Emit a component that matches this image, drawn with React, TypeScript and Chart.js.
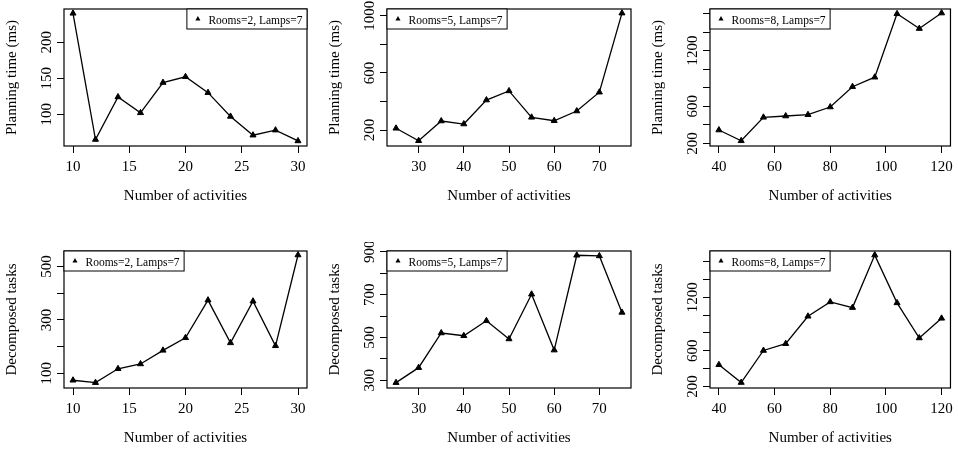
import React, { useEffect, useRef } from 'react';
import { Chart, registerables } from 'chart.js';

Chart.register(...registerables);

const FONT = "'Liberation Serif', 'Times New Roman', serif";

// ---- data ----
const legendLabels = ['Rooms=2, Lamps=7', 'Rooms=5, Lamps=7', 'Rooms=8, Lamps=7'];

const activities2 = [10, 12, 14, 16, 18, 20, 22, 24, 26, 28, 30];
const activities5 = [25, 30, 35, 40, 45, 50, 55, 60, 65, 70, 75];
const activities8 = [40, 48, 56, 64, 72, 80, 88, 96, 104, 112, 120];

const planningMs2 = [240, 65, 124, 102, 144, 152, 130, 97, 71, 78, 63];
const planningMs5 = [212, 125, 263, 242, 410, 474, 289, 265, 333, 465, 1019];
const planningMs8 = [344, 228, 481, 495, 509, 592, 811, 913, 1596, 1437, 1604];

const decomposed2 = [74, 65, 117, 135, 186, 233, 374, 214, 370, 203, 543];
const decomposed5 = [289, 359, 521, 508, 578, 493, 702, 441, 884, 881, 617];
const decomposed8 = [444, 245, 604, 680, 987, 1148, 1084, 1672, 1137, 744, 964];

const xTicks2 = [10, 15, 20, 25, 30];
const xTicks5 = [30, 40, 50, 60, 70];
const xTicks8 = [40, 60, 80, 100, 120];

const planningTicks2 = [100, 150, 200];
const planningLabels2 = [100, 150, 200];
const planningTicks5 = [200, 400, 600, 800, 1000];
const planningLabels5 = [200, 600, 1000];
const planningTicks8 = [200, 400, 600, 800, 1000, 1200, 1400, 1600];
const planningLabels8 = [200, 600, 1200];

const decomposedTicks2 = [100, 200, 300, 400, 500];
const decomposedLabels2 = [100, 300, 500];
const decomposedTicks5 = [300, 400, 500, 600, 700, 800, 900];
const decomposedLabels5 = [300, 500, 700, 900];
const decomposedTicks8 = [200, 400, 600, 800, 1000, 1200, 1400, 1600];
const decomposedLabels8 = [200, 600, 1200];

const X_TITLE = 'Number of activities';
const Y_TITLE_TOP = 'Planning time (ms)';
const Y_TITLE_BOTTOM = 'Decomposed tasks';

// ---- layout (page pixels) ----
const plotLeft = [64, 387, 710];
const plotRight = [307, 631, 953];
const plotTop = [9, 251];
const plotBottom = [146, 388];
const xTitleMiddle = [196, 438];
const Y_AXIS_W = 64;

type PanelSpec = {
  row: number;
  col: number;
  label: string;
  xs: number[];
  ys: number[];
  xMin: number;
  xMax: number;
  yMin: number;
  yMax: number;
  xTicks: number[];
  yTicks: number[];
  yLabels: number[];
  yTitle: string;
  legendSide: 'left' | 'right';
};

const panels: PanelSpec[] = [
  { row: 0, col: 0, label: legendLabels[0], xs: activities2, ys: planningMs2, xMin: 9.2, xMax: 30.8, yMin: 56, yMax: 246, xTicks: xTicks2, yTicks: planningTicks2, yLabels: planningLabels2, yTitle: Y_TITLE_TOP, legendSide: 'right' },
  { row: 0, col: 1, label: legendLabels[1], xs: activities5, ys: planningMs5, xMin: 23, xMax: 77, yMin: 88, yMax: 1048, xTicks: xTicks5, yTicks: planningTicks5, yLabels: planningLabels5, yTitle: Y_TITLE_TOP, legendSide: 'left' },
  { row: 0, col: 2, label: legendLabels[2], xs: activities8, ys: planningMs8, xMin: 36.8, xMax: 123.2, yMin: 172, yMax: 1648, xTicks: xTicks8, yTicks: planningTicks8, yLabels: planningLabels8, yTitle: Y_TITLE_TOP, legendSide: 'left' },
  { row: 1, col: 0, label: legendLabels[0], xs: activities2, ys: decomposed2, xMin: 9.2, xMax: 30.8, yMin: 45, yMax: 558, xTicks: xTicks2, yTicks: decomposedTicks2, yLabels: decomposedLabels2, yTitle: Y_TITLE_BOTTOM, legendSide: 'left' },
  { row: 1, col: 1, label: legendLabels[1], xs: activities5, ys: decomposed5, xMin: 23, xMax: 77, yMin: 264, yMax: 904, xTicks: xTicks5, yTicks: decomposedTicks5, yLabels: decomposedLabels5, yTitle: Y_TITLE_BOTTOM, legendSide: 'left' },
  { row: 1, col: 2, label: legendLabels[2], xs: activities8, ys: decomposed8, xMin: 36.8, xMax: 123.2, yMin: 184, yMax: 1718, xTicks: xTicks8, yTicks: decomposedTicks8, yLabels: decomposedLabels8, yTitle: Y_TITLE_BOTTOM, legendSide: 'left' },
];

// Box around the plot region, rotated y tick labels and the inset legend
const framePlugin = {
  id: 'rFrame',
  afterDraw(chart: any, _args: any, opts: any) {
    const { ctx, chartArea } = chart;
    const { left, top, right, bottom } = chartArea;
    ctx.save();

    // plot box
    ctx.strokeStyle = '#000';
    ctx.lineWidth = 1.2;
    ctx.strokeRect(left, top, right - left, bottom - top);

    // y tick labels, parallel to the axis
    const yScale = chart.scales.y;
    ctx.fillStyle = '#000';
    ctx.font = `15px ${FONT}`;
    ctx.textAlign = 'center';
    ctx.textBaseline = 'alphabetic';
    for (const v of opts.yLabels as number[]) {
      const py = yScale.getPixelForValue(v);
      ctx.save();
      ctx.translate(left - 13.5, py);
      ctx.rotate(-Math.PI / 2);
      ctx.fillText(String(v), 0, 0);
      ctx.restore();
    }

    // legend
    const text = chart.data.datasets[0].label as string;
    ctx.font = `11.5px ${FONT}`;
    const tw = ctx.measureText(text).width;
    const boxW = 21.5 + tw + 4.5;
    const boxH = 20;
    const x0 = opts.legendSide === 'right' ? right - boxW : left;
    const y0 = top;
    ctx.fillStyle = '#fff';
    ctx.fillRect(x0, y0, boxW, boxH);
    ctx.strokeStyle = '#000';
    ctx.lineWidth = 1;
    ctx.strokeRect(x0, y0, boxW, boxH);
    const cx = x0 + 11;
    const cy = y0 + 10;
    ctx.fillStyle = '#000';
    ctx.beginPath();
    ctx.moveTo(cx, cy - 2.9);
    ctx.lineTo(cx + 2.5, cy + 1.45);
    ctx.lineTo(cx - 2.5, cy + 1.45);
    ctx.closePath();
    ctx.fill();
    ctx.textAlign = 'left';
    ctx.textBaseline = 'alphabetic';
    ctx.fillText(text, x0 + 21.5, y0 + 14.5);

    ctx.restore();
  },
};

function Panel({ spec }: { spec: PanelSpec }) {
  const ref = useRef<HTMLCanvasElement>(null);

  const canvasLeft = plotLeft[spec.col] - Y_AXIS_W;
  const canvasRight = Math.min(958, plotRight[spec.col] + 10);
  const canvasTop = plotTop[spec.row] - 9;
  const canvasBottom = spec.row === 0 ? 215 : 450;
  const width = canvasRight - canvasLeft;
  const height = canvasBottom - canvasTop;
  const rightPad = canvasRight - plotRight[spec.col];
  const xAxisH = canvasBottom - plotBottom[spec.row];
  const xTitlePad = canvasBottom - xTitleMiddle[spec.row] - 9;

  useEffect(() => {
    const canvas = ref.current!;
    const tickFont = { family: FONT, size: 15 };
    const grid = {
      display: true,
      drawOnChartArea: false,
      drawTicks: true,
      tickLength: 7,
      tickColor: '#000',
      tickWidth: 1,
    };
    const chart = new Chart(canvas, {
      type: 'line',
      data: {
        datasets: [
          {
            label: spec.label,
            data: spec.xs.map((x, i) => ({ x, y: spec.ys[i] })),
            borderColor: '#000',
            backgroundColor: '#000',
            borderWidth: 1.3,
            pointStyle: 'triangle',
            pointRadius: 3.5,
            pointHoverRadius: 3.5,
            pointBackgroundColor: '#000',
            pointBorderColor: '#000',
            pointBorderWidth: 1,
            tension: 0,
            fill: false,
          },
        ],
      },
      options: {
        responsive: false,
        animation: false,
        events: [],
        layout: { padding: { top: 9, right: rightPad, bottom: 0, left: 0 } },
        plugins: {
          legend: { display: false },
          tooltip: { enabled: false },
          rFrame: { yLabels: spec.yLabels, legendSide: spec.legendSide },
        } as any,
        scales: {
          x: {
            type: 'linear',
            position: 'bottom',
            min: spec.xMin,
            max: spec.xMax,
            afterBuildTicks: (s: any) => {
              s.ticks = spec.xTicks.map((v) => ({ value: v }));
            },
            afterFit: (s: any) => {
              s.height = xAxisH;
            },
            grid,
            border: { display: false },
            ticks: {
              color: '#000',
              font: tickFont,
              padding: 5,
              maxRotation: 0,
              minRotation: 0,
              autoSkip: false,
              callback: (v: any) => String(v),
            },
            title: {
              display: true,
              text: X_TITLE,
              color: '#000',
              font: tickFont,
              padding: { top: 0, bottom: xTitlePad },
            },
          },
          y: {
            type: 'linear',
            position: 'left',
            min: spec.yMin,
            max: spec.yMax,
            afterBuildTicks: (s: any) => {
              s.ticks = spec.yTicks.map((v) => ({ value: v }));
            },
            afterFit: (s: any) => {
              s.width = Y_AXIS_W;
            },
            grid,
            border: { display: false },
            ticks: { display: false },
            title: {
              display: true,
              text: spec.yTitle,
              color: '#000',
              font: tickFont,
              padding: { top: 3.3, bottom: 0 },
            },
          },
        },
      } as any,
      plugins: [framePlugin],
    });
    return () => chart.destroy();
  }, []);

  return (
    <canvas
      ref={ref}
      width={width}
      height={height}
      style={{ position: 'absolute', left: canvasLeft, top: canvasTop, width, height }}
    />
  );
}

export default function App() {
  return (
    <div
      style={{
        position: 'absolute',
        left: 0,
        top: 0,
        width: 958,
        height: 450,
        overflow: 'hidden',
        background: '#fff',
      }}
    >
      {panels.map((p, i) => (
        <Panel key={i} spec={p} />
      ))}
    </div>
  );
}
